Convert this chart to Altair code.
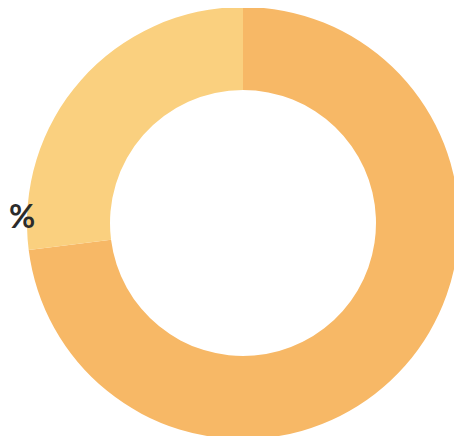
import altair as alt
import pandas as pd

categories = ["Majority", "Minority"]
values = [73, 27]
colors = ["#F7B866", "#FAD07F"]
rank = [1, 2]

df = pd.DataFrame({"category": categories, "value": values, "rank": rank})

donut = alt.Chart(df).mark_arc(innerRadius=133, outerRadius=216, stroke=None).encode(
    theta=alt.Theta("value:Q", stack=True),
    order=alt.Order("rank:Q"),
    color=alt.Color("category:N", scale=alt.Scale(domain=categories, range=colors), legend=None),
    x=alt.value(235),
    y=alt.value(215),
)

label = alt.Chart(pd.DataFrame({"t": ["%"]})).mark_text(
    align="left", baseline="middle", fontSize=32, font="Lato", fontWeight="bold", color="#2B2B2B"
).encode(
    text="t:N",
    x=alt.value(1),
    y=alt.value(210),
)

chart = (donut + label).properties(
    width=446, height=428,
    autosize=alt.AutoSizeParams(type="none"),
    padding=0,
).configure_view(stroke=None)

chart.save("out.html", embed_options={"renderer": "svg", "actions": False})
